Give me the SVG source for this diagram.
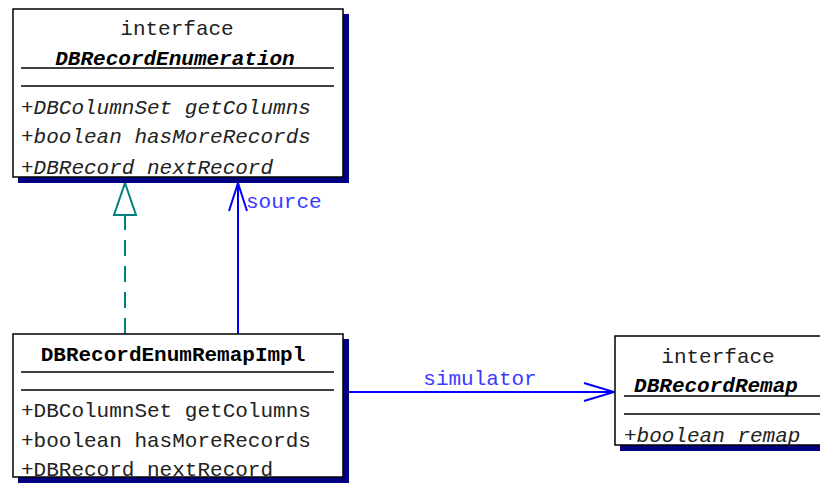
<svg xmlns="http://www.w3.org/2000/svg" width="820" height="483" viewBox="0 0 820 483">
<style>
  .shadow { fill: #000080; }
  .box { fill: #ffffff; stroke: #000000; stroke-width: 1.5; }
  .sep { stroke: #000000; stroke-width: 1.5; }
  text { font-family: "Liberation Mono", "Courier New", monospace; font-size: 21px; fill: #222222; }
  .name { font-weight: bold; fill: #000000; }
  .it { font-style: italic; }
  .lbl { fill: #3a3aff; }
  .real { stroke: #008080; stroke-width: 2; fill: none; }
  .assoc { stroke: #0000ff; stroke-width: 2; fill: none; }
</style>
<rect width="820" height="483" fill="#ffffff"/>

<g id="connectors">
  <line class="real" x1="125" y1="334" x2="125" y2="215" stroke-dasharray="16,10"/>
  <polygon class="real" points="125,183 114,215 136,215"/>
  <line class="assoc" x1="238" y1="334" x2="238" y2="184"/>
  <polyline class="assoc" points="229,211 238,183 247,211"/>
  <text class="lbl" x="246" y="208">source</text>
  <line class="assoc" x1="348" y1="392" x2="614" y2="392"/>
  <polyline class="assoc" points="584,383 614,392 584,401"/>
  <text class="lbl" x="480" y="385" text-anchor="middle">simulator</text>
</g>

<g id="DBRecordEnumeration">
  <rect class="shadow" x="18" y="14" width="331" height="169"/>
  <rect class="box" x="13" y="9" width="330" height="168"/>
  <text x="177" y="35" text-anchor="middle">interface</text>
  <text class="name it" x="175" y="65" text-anchor="middle">DBRecordEnumeration</text>
  <line class="sep" x1="21" y1="68" x2="334" y2="68"/>
  <line class="sep" x1="21" y1="86" x2="334" y2="86"/>
  <text class="it" x="21" y="114">+DBColumnSet getColumns</text>
  <text class="it" x="21" y="143">+boolean hasMoreRecords</text>
  <text class="it" x="21" y="174">+DBRecord nextRecord</text>
</g>

<g id="DBRecordEnumRemapImpl">
  <rect class="shadow" x="18" y="339" width="331" height="144"/>
  <rect class="box" x="13" y="334" width="330" height="143"/>
  <text class="name" x="173" y="361" text-anchor="middle">DBRecordEnumRemapImpl</text>
  <line class="sep" x1="21" y1="372" x2="334" y2="372"/>
  <line class="sep" x1="21" y1="390" x2="334" y2="390"/>
  <text x="21" y="417">+DBColumnSet getColumns</text>
  <text x="21" y="447">+boolean hasMoreRecords</text>
  <text x="21" y="476">+DBRecord nextRecord</text>
</g>

<g id="DBRecordRemap">
  <rect class="shadow" x="620" y="341" width="210" height="110"/>
  <rect class="box" x="615" y="336" width="210" height="109"/>
  <text x="718" y="363" text-anchor="middle">interface</text>
  <text class="name it" x="716" y="392" text-anchor="middle">DBRecordRemap</text>
  <line class="sep" x1="624" y1="396" x2="822" y2="396"/>
  <line class="sep" x1="624" y1="414" x2="822" y2="414"/>
  <text class="it" x="624" y="442">+boolean remap</text>
</g>
</svg>
